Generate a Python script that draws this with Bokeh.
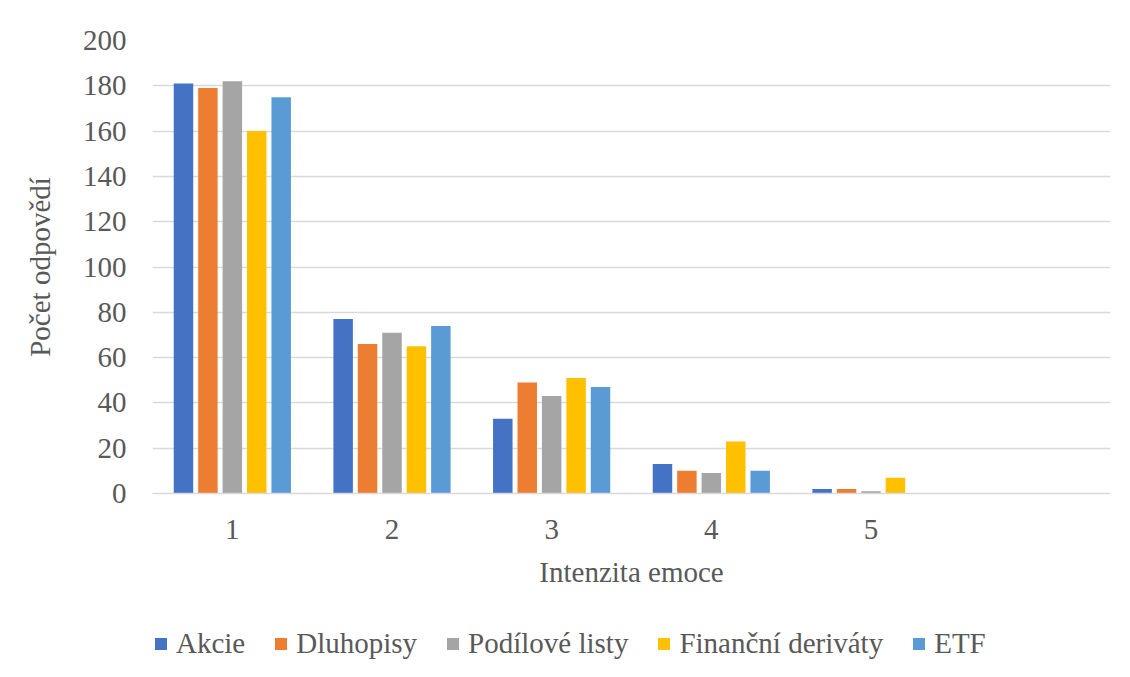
from bokeh.plotting import figure
from bokeh.layouts import column
from bokeh.models import ColumnDataSource, FactorRange, Range1d, Legend, LegendItem, SingleIntervalTicker
from bokeh.transform import dodge
from bokeh.embed import file_html
from bokeh.resources import INLINE

categories = ["1", "2", "3", "4", "5", " "]
series = ["Akcie", "Dluhopisy", "Podílové listy", "Finanční deriváty", "ETF"]
akcie = [181, 77, 33, 13, 2, 0]
dluhopisy = [179, 66, 49, 10, 2, 0]
podilove = [182, 71, 43, 9, 1, 0]
financni = [160, 65, 51, 23, 7, 0]
etf = [175, 74, 47, 10, 0, 0]
colors = ["#4472C4", "#ED7D31", "#A5A5A5", "#FFC000", "#5B9BD5"]

FONT = "Liberation Serif"
TXT = "#595959"
FS = "29px"

source = ColumnDataSource(dict(cat=categories, s0=akcie, s1=dluhopisy, s2=podilove, s3=financni, s4=etf))
offsets = [-0.306, -0.153, 0.0, 0.153, 0.306]

# main chart
p = figure(width=1130, height=610, x_range=FactorRange(factors=categories, range_padding=0),
           y_range=Range1d(0, 200), output_backend="svg", toolbar_location=None,
           min_border_left=152, min_border_right=20, min_border_top=40, min_border_bottom=117)
p.outline_line_color = None

for i, (name, col) in enumerate(zip(series, colors)):
    p.vbar(x=dodge("cat", offsets[i], range=p.x_range), top="s%d" % i, width=0.122,
           source=source, fill_color=col, line_color=None)

p.yaxis.ticker = SingleIntervalTicker(interval=20)
p.ygrid.grid_line_color = "#d9d9d9"
p.ygrid.grid_line_width = 1.5
p.xgrid.grid_line_color = None

for ax in (p.xaxis[0], p.yaxis[0]):
    ax.major_tick_line_color = None
    ax.minor_tick_line_color = None
    ax.major_label_text_font = FONT
    ax.major_label_text_font_size = FS
    ax.major_label_text_color = TXT
    ax.axis_label_text_font = FONT
    ax.axis_label_text_font_size = FS
    ax.axis_label_text_color = TXT
    ax.axis_label_text_font_style = "normal"

p.yaxis.axis_line_color = None
p.yaxis.axis_label = "Počet odpovědí"
p.yaxis.major_label_standoff = 20
p.yaxis.axis_label_standoff = 24
p.xaxis.axis_line_color = "#d9d9d9"
p.xaxis.axis_line_width = 1.5
p.xaxis.axis_label = "Intenzita emoce"
p.xaxis.major_label_standoff = 13
p.xaxis.axis_label_standoff = 8

# legend strip (its renderers are hidden; only the legend shows)
lg = figure(width=1130, height=66, x_range=p.x_range, y_range=Range1d(0, 200),
            output_backend="svg", toolbar_location=None, x_axis_location=None, y_axis_location=None,
            min_border_left=0, min_border_right=0, min_border_top=0, min_border_bottom=0)
lg.outline_line_color = None
lg.xgrid.grid_line_color = None
lg.ygrid.grid_line_color = None
items = []
for i, (name, col) in enumerate(zip(series, colors)):
    r = lg.vbar(x=dodge("cat", offsets[i], range=lg.x_range), top="s%d" % i, width=0.122,
                source=source, fill_color=col, line_color=None, visible=False)
    items.append(LegendItem(label=name, renderers=[r]))

legend = Legend(items=items, orientation="horizontal", location=(1, 16),
                label_text_font=FONT, label_text_font_size=FS, label_text_color=TXT,
                glyph_width=15, glyph_height=15, label_standoff=8, spacing=28,
                padding=0, margin=0, border_line_color=None, background_fill_alpha=0,
                inactive_fill_alpha=0)
lg.add_layout(legend)

layout = column(p, lg, spacing=0)
open("out.html", "w").write(file_html(layout, INLINE))
